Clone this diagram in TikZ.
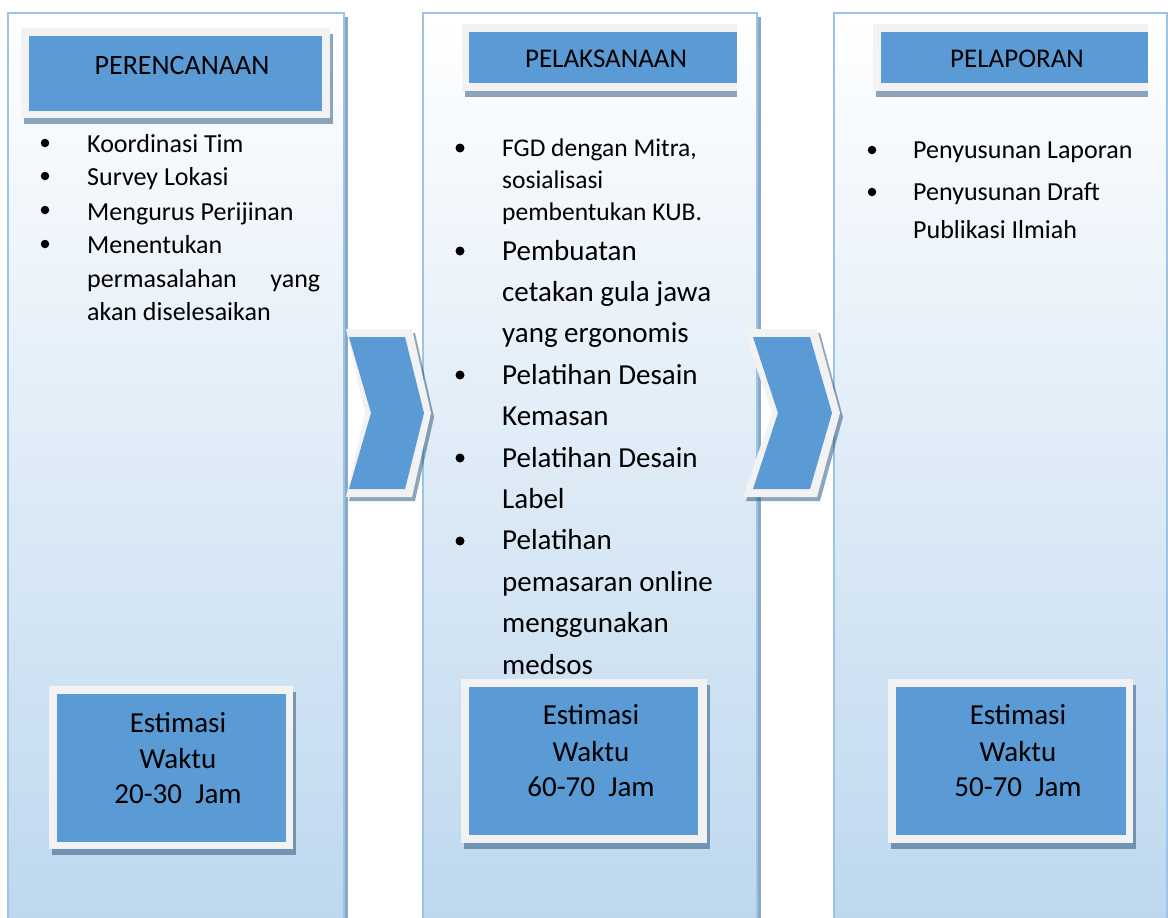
\documentclass[tikz,border=0pt]{standalone}
\usepackage{fontspec}
\setmainfont{Carlito}

\definecolor{boxblue}{RGB}{91,155,213}
\definecolor{framegray}{RGB}{242,242,242}
\definecolor{colline}{RGB}{157,195,230}
\definecolor{colbot}{RGB}{189,215,238}
\definecolor{colshade}{RGB}{140,168,200}
\definecolor{dropshade}{RGB}{31,78,121}

\tikzset{
  drop/.style={fill=dropshade,opacity=0.5},
  frame/.style={fill=framegray},
  blue/.style={fill=boxblue},
  itemtext/.style={anchor=base west,inner sep=0pt,font=\fontsize{26}{31}\selectfont},
  bigitem/.style={anchor=base west,inner sep=0pt,font=\fontsize{29}{35}\selectfont},
  headtext/.style={anchor=base,inner sep=0pt,font=\fontsize{27}{32}\selectfont},
  esttext/.style={anchor=base,inner sep=0pt,font=\fontsize{29}{35}\selectfont},
  dot/.style={circle,fill=black,inner sep=0pt,minimum size=8.5pt},
}

\begin{document}
\begin{tikzpicture}[x=1pt,y=-1pt]
\clip (0,0) rectangle (1168,918);
\fill[white] (0,0) rectangle (1168,918);

% three columns
\foreach \l/\r in {8/344, 423/757, 834/1167} {
  \fill[colshade] (\l+4,17) rectangle (\r+4,925);
  \shade[top color=white,bottom color=colbot] (\l,13) rectangle (\r,925);
  \draw[colline,line width=2.5pt] (\l,13) rectangle (\r,925);
}

% headers
\fill[drop] (24,34) rectangle (333,124);
\fill[frame] (21,28) rectangle (330,118);
\fill[blue] (29,36) rectangle (322,111);
\node[headtext,font=\fontsize{28}{32}\selectfont] (h1) at (182,74) {PERENCANAAN};

\fill[drop] (465,30) rectangle (737,97);
\fill[frame] (462,24) rectangle (737,91);
\fill[blue] (469,32) rectangle (737,83);
\node[headtext] (h2) at (606,67) {PELAKSANAAN};

\fill[drop] (876,30) rectangle (1148,97);
\fill[frame] (873,24) rectangle (1148,91);
\fill[blue] (881,32) rectangle (1148,83);
\node[headtext] (h3) at (1017,67) {PELAPORAN};

% column 1 items
\foreach \y [count=\i] in {143,176,210,244}
  \node[dot] (da\i) at (45,\y) {};
\foreach \y/\t [count=\i] in {152/Koordinasi Tim, 185/Survey Lokasi,
    220/Mengurus Perijinan, 253/Menentukan,
    287/\makebox[233pt][s]{permasalahan yang}, 320/akan diselesaikan}
  \node[itemtext] (ta\i) at (87,\y) {\t};

% column 2 items
\foreach \y [count=\i] in {148,251,375,458,541}
  \node[dot,minimum size=9pt] (db\i) at (460,\y) {};
\foreach \y/\t [count=\i] in {156/{FGD dengan Mitra,}, 188/sosialisasi,
    220/pembentukan KUB.}
  \node[itemtext,font=\fontsize{25.5}{31}\selectfont] (tb\i) at (502,\y) {\t};
\foreach \y/\t [count=\i] in {260/Pembuatan, 301.4/cetakan gula jawa,
    342.8/yang ergonomis, 384.2/Pelatihan Desain, 425.6/Kemasan,
    467/Pelatihan Desain, 508.4/Label, 549.8/Pelatihan,
    591.2/pemasaran online, 632.6/menggunakan, 674/medsos}
  \node[bigitem] (ub\i) at (502,\y) {\t};

% column 3 items
\foreach \y [count=\i] in {150,192}
  \node[dot] (dc\i) at (872,\y) {};
\foreach \y/\t [count=\i] in {158/Penyusunan Laporan, 200/Penyusunan Draft,
    238/Publikasi Ilmiah}
  \node[itemtext] (tc\i) at (913,\y) {\t};

% chevrons
\fill[drop] (349,333) -- (415,333) -- (434,417) -- (415,501) -- (349,501) -- (368,417) -- cycle;
\fill[frame] (346,329) -- (412,329) -- (431,413) -- (412,497) -- (346,497) -- (365,413) -- cycle;
\fill[blue] (349,337) -- (405,337) -- (424,413) -- (405,489) -- (349,489) -- (371,413) -- cycle;

\fill[drop] (746,333) -- (820,333) -- (843,417) -- (820,501) -- (746,501) -- (775,417) -- cycle;
\fill[frame] (743,329) -- (817,329) -- (840,413) -- (817,497) -- (743,497) -- (772,413) -- cycle;
\fill[blue] (753,337) -- (810,337) -- (832,413) -- (810,489) -- (753,489) -- (778,413) -- cycle;

% time estimates
\fill[drop] (52,692) rectangle (296,855);
\fill[frame] (49,686) rectangle (293,849);
\fill[blue] (57,694) rectangle (286,842);
\node[esttext] (ea1) at (178,732) {Estimasi};
\node[esttext] (ea2) at (178,768) {Waktu};
\node[esttext] (ea3) at (178,803) {20-30\ \ Jam};

\fill[drop] (464,685) rectangle (710,849);
\fill[frame] (461,679) rectangle (707,843);
\fill[blue] (469,687) rectangle (698,835);
\node[esttext] (eb1) at (591,724) {Estimasi};
\node[esttext] (eb2) at (591,761) {Waktu};
\node[esttext] (eb3) at (591,796) {60-70\ \ Jam};

\fill[drop] (891,685) rectangle (1136,849);
\fill[frame] (888,679) rectangle (1133,843);
\fill[blue] (896,687) rectangle (1126,835);
\node[esttext] (ec1) at (1018,724) {Estimasi};
\node[esttext] (ec2) at (1018,761) {Waktu};
\node[esttext] (ec3) at (1018,796) {50-70\ \ Jam};
\end{tikzpicture}
\end{document}
